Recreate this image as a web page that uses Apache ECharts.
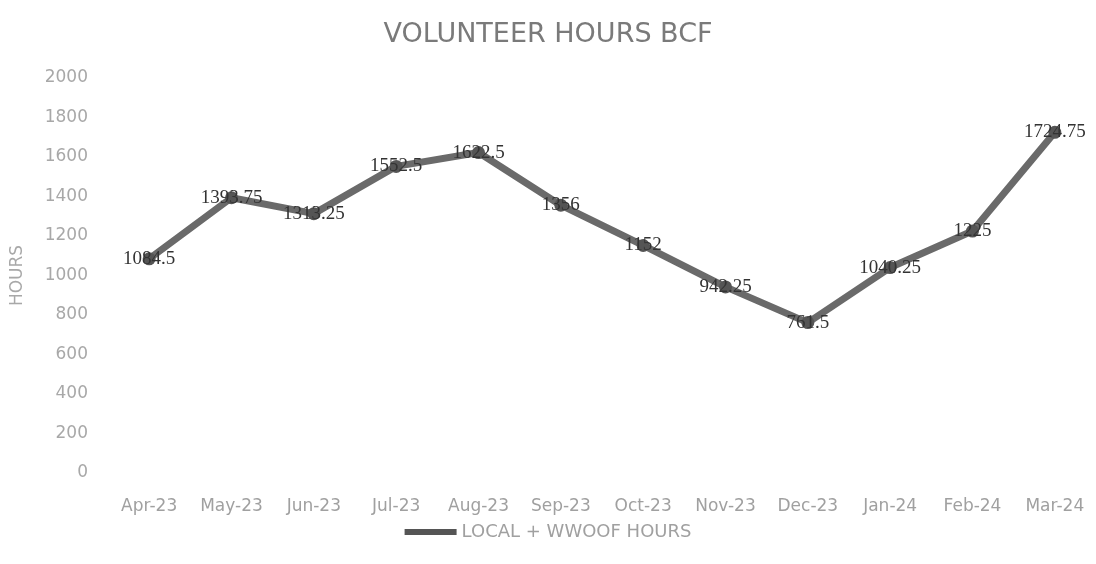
<!DOCTYPE html>
<html>
<head>
<meta charset="utf-8">
<script src="https://cdn.jsdelivr.net/npm/echarts@6/dist/echarts.min.js"></script>
<style>html,body{margin:0;padding:0;background:#fff}#c{width:1096px;height:564px}</style>
</head>
<body>
<div id="c"></div>
<script>
const categories = ['Apr-23','May-23','Jun-23','Jul-23','Aug-23','Sep-23','Oct-23','Nov-23','Dec-23','Jan-24','Feb-24','Mar-24'];
const hours = [1084.5, 1393.75, 1313.25, 1552.5, 1622.5, 1356, 1152, 942.25, 761.5, 1040.25, 1225, 1724.75];
const seriesName = 'LOCAL + WWOOF HOURS';
const titleText = 'VOLUNTEER HOURS BCF';
const yName = 'HOURS';

const chart = echarts.init(document.getElementById('c'));
chart.setOption({
  animation: false,
  backgroundColor: '#ffffff',
  title: {
    text: titleText, left: 'center', top: 16,
    textStyle: {fontFamily: 'DejaVu Sans', fontWeight: 'normal', fontSize: 27, color: '#7a7a7a'}
  },
  legend: {
    bottom: 18, left: 'center', itemWidth: 52, itemHeight: 6, icon: 'rect', itemGap: 4,
    textStyle: {fontFamily: 'DejaVu Sans', fontSize: 18, color: '#a0a0a0'},
    data: [seriesName]
  },
  grid: {left: 108, right: 0, top: 78, bottom: 91},
  xAxis: {
    type: 'category', data: categories, boundaryGap: true,
    axisLine: {show: false}, axisTick: {show: false},
    axisLabel: {fontFamily: 'DejaVu Sans', fontSize: 17, color: '#a0a0a0', margin: 25}
  },
  yAxis: {
    type: 'value', min: 0, max: 2000, interval: 200,
    name: yName, nameLocation: 'middle', nameGap: 82, nameRotate: 90,
    nameTextStyle: {fontFamily: 'DejaVu Sans', fontSize: 17, color: '#a8a8a8'},
    axisLine: {show: false}, axisTick: {show: false}, splitLine: {show: false},
    axisLabel: {fontFamily: 'DejaVu Sans', fontSize: 17, color: '#a8a8a8', margin: 20,
      formatter: function (v) { return String(v); }}
  },
  series: [{
    name: seriesName, type: 'line', data: hours,
    symbol: 'circle', symbolSize: 13,
    lineStyle: {width: 7, color: '#6a6a6a'},
    itemStyle: {color: '#555555'},
    label: {
      show: true, position: 'inside',
      fontFamily: 'Liberation Serif', fontSize: 19, color: '#333333'
    }
  }]
});
</script>
</body>
</html>
